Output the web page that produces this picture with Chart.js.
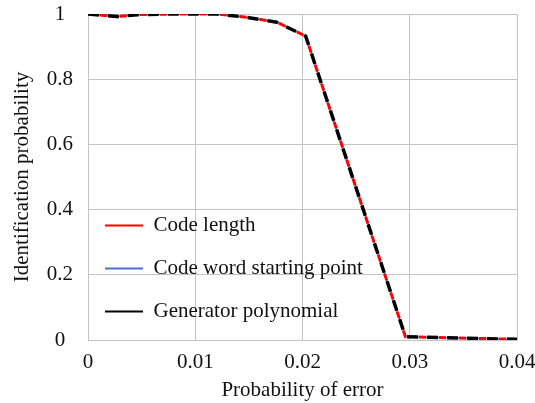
<!DOCTYPE html>
<html>
<head>
<meta charset="utf-8">
<script src="https://cdn.jsdelivr.net/npm/chart.js@4.4.1/dist/chart.umd.min.js"></script>
<style>
  html, body { margin: 0; padding: 0; background: #fff; }
  #wrap { width: 535px; height: 403px; }
</style>
</head>
<body>
<div id="wrap"><canvas id="errChart"></canvas></div>
<script>
// error probability (x) and identification probability of each method (y)
const errorRates = [0, 0.0027, 0.0046, 0.008, 0.012, 0.0148, 0.0176, 0.0203, 0.0296, 0.04];
const codeLength = [1, 0.992, 0.998, 1, 1, 0.99, 0.975, 0.932, 0.01, 0.002];
const codeWordStart = [1, 0.992, 0.998, 1, 1, 0.99, 0.975, 0.932, 0.01, 0.002];
const generatorPoly = [1, 0.992, 0.998, 1, 1, 0.99, 0.975, 0.932, 0.01, 0.002];
const seriesNames = ["Code length", "Code word starting point", "Generator polynomial"];
const xTicks = [0, 0.01, 0.02, 0.03, 0.04];
const yTicks = [0, 0.2, 0.4, 0.6, 0.8, 1];

const FONT = "'Liberation Serif', 'Times New Roman', serif";
const FONT_SIZE = 21;

function toPoints(ys) {
  return errorRates.map((x, i) => ({ x: x, y: ys[i] }));
}

function fmt(v) {
  return String(+Number(v).toFixed(3));
}

// the "chartArea" legend is laid out from y = 0; move it onto the plot,
// bottom-left, like the Excel legend in the original
const legendInPlot = {
  id: "legendInPlot",
  afterLayout(chart) {
    const lg = chart.legend;
    const ca = chart.chartArea;
    lg.top = ca.top;
    lg.bottom = ca.bottom + 4;
    lg.left = ca.left - 5;
  },
};

document.addEventListener("DOMContentLoaded", function () {
  const ctx = document.getElementById("errChart").getContext("2d");

  new Chart(ctx, {
    type: "scatter",
    data: {
      datasets: [
        {
          label: seriesNames[2],
          data: toPoints(generatorPoly),
          showLine: true,
          borderColor: "#000000",
          backgroundColor: "#000000",
          borderWidth: 3.5,
          borderDash: [11, 9],
          pointRadius: 0,
          order: 1,
        },
        {
          label: seriesNames[0],
          data: toPoints(codeLength),
          showLine: true,
          borderColor: "#ff0000",
          backgroundColor: "#ff0000",
          borderWidth: 3,
          borderDash: [7, 13],
          borderDashOffset: -12,
          pointRadius: 0,
          order: 2,
        },
        {
          label: seriesNames[1],
          data: toPoints(codeWordStart),
          showLine: true,
          borderColor: "#4a6fd6",
          backgroundColor: "#4a6fd6",
          borderWidth: 1.5,
          pointRadius: 0,
          order: 3,
        },
      ],
    },
    options: {
      responsive: true,
      maintainAspectRatio: false,
      animation: false,
      layout: { padding: { left: 4, right: 0, top: 14, bottom: 0 } },
      plugins: {
        legend: {
          position: "chartArea",
          align: "end",
          labels: {
            font: { family: FONT, size: FONT_SIZE },
            color: "#111",
            boxWidth: 38,
            boxHeight: 2,
            padding: 22,
            sort: (a, b) => seriesNames.indexOf(a.text) - seriesNames.indexOf(b.text),
            generateLabels: (chart) =>
              Chart.defaults.plugins.legend.labels.generateLabels(chart).map((l) => {
                l.lineDash = [];
                l.lineWidth = 0;
                return l;
              }),
          },
        },
        tooltip: { enabled: false },
      },
      scales: {
        x: {
          type: "linear",
          min: 0,
          max: 0.04,
          afterBuildTicks: (s) => { s.ticks = xTicks.map((v) => ({ value: v })); },
          afterFit: (s) => { s.height = 63; s.paddingRight = 18; },
          ticks: {
            font: { family: FONT, size: FONT_SIZE },
            color: "#111",
            padding: 10,
            maxRotation: 0,
            callback: fmt,
          },
          grid: { color: "#c4c4c4", drawTicks: false },
          border: { color: "#c4c4c4" },
          title: {
            display: true,
            text: "Probability of error",
            font: { family: FONT, size: FONT_SIZE },
            color: "#111",
            padding: { top: 0, bottom: 0 },
          },
        },
        y: {
          min: 0,
          max: 1,
          afterBuildTicks: (s) => { s.ticks = yTicks.map((v) => ({ value: v })); },
          afterFit: (s) => { s.width = 84; s.paddingTop = 0; },
          ticks: {
            font: { family: FONT, size: FONT_SIZE },
            color: "#111",
            padding: 15,
            crossAlign: "center",
            callback: fmt,
          },
          grid: { color: "#c4c4c4", drawTicks: false },
          border: { color: "#c4c4c4" },
          title: {
            display: true,
            text: "Identification probability",
            font: { family: FONT, size: FONT_SIZE },
            color: "#111",
            padding: { top: 6, bottom: 6 },
          },
        },
      },
    },
    plugins: [legendInPlot],
  });
});
</script>
</body>
</html>
